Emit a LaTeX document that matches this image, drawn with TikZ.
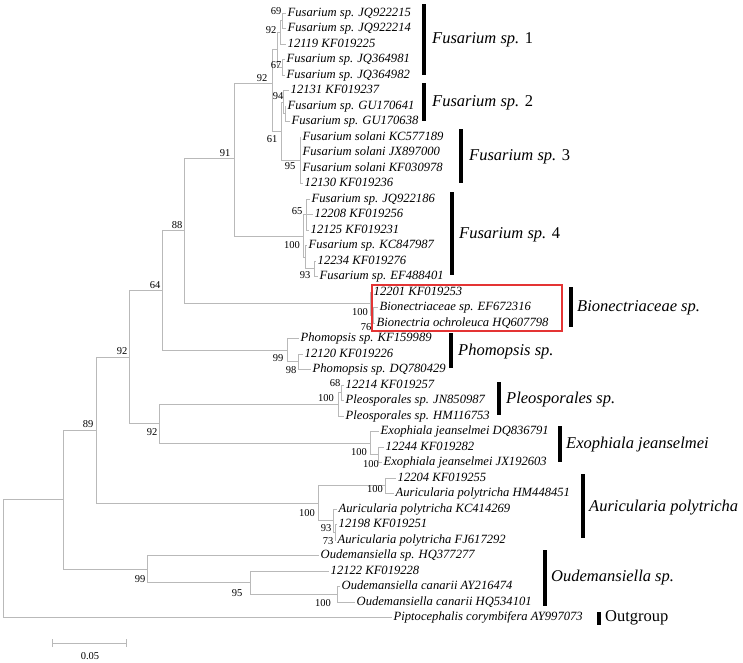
\documentclass[tikz,border=0pt]{standalone}
\usepackage{fontspec}
\setmainfont{Liberation Serif}
\usetikzlibrary{arrows.meta}
\definecolor{treeGray}{RGB}{185,185,185}
\definecolor{boxRed}{RGB}{228,52,52}
\tikzset{
  branch/.style={draw=treeGray, line width=0.9pt},
  leaf/.style={anchor=west, inner sep=1.5pt, text height=8.7pt, text depth=2.6pt,
               font=\fontsize{12.6}{14}\selectfont\itshape},
  boot/.style={inner sep=0pt, font=\fontsize{10.5}{12}\selectfont},
  cladebar/.style={line width=3.2pt},
  clade/.style={anchor=west, inner sep=0pt, font=\fontsize{16.5}{19}\selectfont},
  redframe/.style={draw=boxRed, line width=1.2pt}
}
\begin{document}
\begin{tikzpicture}[x=1pt, y=-1pt]
\useasboundingbox (0,0) rectangle (743,662);

% leaves
\node[leaf] (l1) at (286,13.0) {Fusarium sp. JQ922215};
\node[leaf] (l2) at (286,28.5) {Fusarium sp. JQ922214};
\node[leaf] (l3) at (286,44.0) {12119 KF019225};
\node[leaf] (l4) at (285,59.5) {Fusarium sp. JQ364981};
\node[leaf] (l5) at (285,75.0) {Fusarium sp. JQ364982};
\node[leaf] (l6) at (289,90.6) {12131 KF019237};
\node[leaf] (l7) at (286,106.1) {Fusarium sp. GU170641};
\node[leaf] (l8) at (290,121.6) {Fusarium sp. GU170638};
\node[leaf] (l9) at (301,137.1) {Fusarium solani KC577189};
\node[leaf] (l10) at (301,152.6) {Fusarium solani JX897000};
\node[leaf] (l11) at (301,168.1) {Fusarium solani KF030978};
\node[leaf] (l12) at (303,183.6) {12130 KF019236};
\node[leaf] (l13) at (310,199.1) {Fusarium sp. JQ922186};
\node[leaf] (l14) at (313,214.6) {12208 KF019256};
\node[leaf] (l15) at (309,230.1) {12125 KF019231};
\node[leaf] (l16) at (307,245.7) {Fusarium sp. KC847987};
\node[leaf] (l17) at (316,261.2) {12234 KF019276};
\node[leaf] (l18) at (318,276.7) {Fusarium sp. EF488401};
\node[leaf] (l19) at (372,292.2) {12201 KF019253};
\node[leaf] (l20) at (378,307.7) {Bionectriaceae sp. EF672316};
\node[leaf] (l21) at (375,323.2) {Bionectria ochroleuca HQ607798};
\node[leaf] (l22) at (299,338.7) {Phomopsis sp. KF159989};
\node[leaf] (l23) at (303,354.2) {12120 KF019226};
\node[leaf] (l24) at (311,369.7) {Phomopsis sp. DQ780429};
\node[leaf] (l25) at (344,385.2) {12214 KF019257};
\node[leaf] (l26) at (344,400.7) {Pleosporales sp. JN850987};
\node[leaf] (l27) at (344,416.2) {Pleosporales sp. HM116753};
\node[leaf] (l28) at (379,431.8) {Exophiala jeanselmei DQ836791};
\node[leaf] (l29) at (384,447.3) {12244 KF019282};
\node[leaf] (l30) at (382,462.8) {Exophiala jeanselmei JX192603};
\node[leaf] (l31) at (396,478.3) {12204 KF019255};
\node[leaf] (l32) at (394,493.8) {Auricularia polytricha HM448451};
\node[leaf] (l33) at (337,509.3) {Auricularia polytricha KC414269};
\node[leaf] (l34) at (337,524.8) {12198 KF019251};
\node[leaf] (l35) at (336,540.3) {Auricularia polytricha FJ617292};
\node[leaf] (l36) at (319,555.8) {Oudemansiella sp. HQ377277};
\node[leaf] (l37) at (329,571.3) {12122 KF019228};
\node[leaf] (l38) at (340,586.8) {Oudemansiella canarii AY216474};
\node[leaf] (l39) at (355,602.3) {Oudemansiella canarii HQ534101};
\node[leaf] (l40) at (392,617.9) {Piptocephalis corymbifera AY997073};

% inner nodes
\coordinate (root) at (3,558.9);
\coordinate (A) at (63,499.8);
\coordinate (B) at (96,430.3);
\coordinate (C) at (129,357.2);
\coordinate (D) at (162,290.6);
\coordinate (E) at (184,230.9);
\coordinate (F) at (234,158);
\coordinate (G) at (272,83);
\coordinate (n1) at (277,49.8);
\coordinate (n11) at (280,32.4);
\coordinate (n111) at (282,20.75);
\coordinate (n12) at (282,67.25);
\coordinate (X) at (281,131.3);
\coordinate (n2) at (283,102.2);
\coordinate (n21) at (285,113.8);
\coordinate (n3) at (300,160.3);
\coordinate (n4) at (303,236);
\coordinate (n41) at (306,214.5);
\coordinate (n44) at (305,257.3);
\coordinate (n42) at (314,268.8);
\coordinate (Bio) at (370,303.7);
\coordinate (Bio2) at (373,315.4);
\coordinate (Pho) at (287,350.3);
\coordinate (Pho2) at (298,361.9);
\coordinate (PE) at (159,423.9);
\coordinate (Pleo) at (338,404.4);
\coordinate (Pleo2) at (341,392.9);
\coordinate (Exo) at (370,443.3);
\coordinate (Exo2) at (378,454.9);
\coordinate (Auri) at (318,503.3);
\coordinate (Au1) at (385,485.9);
\coordinate (Au2) at (333,520.7);
\coordinate (Au3) at (335,532.4);
\coordinate (Oud) at (147,569.3);
\coordinate (Oud2) at (250,582.7);
\coordinate (Oud3) at (337,594.5);

% branches
\draw[branch] (root) |- (A) (root) |- (l40.west);
\draw[branch] (A) |- (B) (A) |- (Oud);
\draw[branch] (B) |- (C) (B) |- (Auri);
\draw[branch] (C) |- (D) (C) |- (PE);
\draw[branch] (D) |- (E) (D) |- (Pho);
\draw[branch] (E) |- (F) (E) |- (Bio);
\draw[branch] (F) |- (G) (F) |- (n4);
\draw[branch] (G) |- (n1) (G) |- (X);
\draw[branch] (n1) |- (n11) (n1) |- (n12);
\draw[branch] (n11) |- (n111) (n11) |- (l3.west);
\draw[branch] (n111) |- (l1.west) (n111) |- (l2.west);
\draw[branch] (n12) |- (l4.west) (n12) |- (l5.west);
\draw[branch] (X) |- (n2) (X) |- (n3);
\draw[branch] (n2) |- (l6.west) (n2) |- (n21);
\draw[branch] (n21) |- (l7.west) (n21) |- (l8.west);
\draw[branch] (n3) |- (l9.west) (n3) |- (l10.west) (n3) |- (l11.west) (n3) |- (l12.west);
\draw[branch] (n4) |- (n41) (n4) |- (n44);
\draw[branch] (n41) |- (l13.west) (n41) |- (l14.west) (n41) |- (l15.west);
\draw[branch] (n44) |- (l16.west) (n44) |- (n42);
\draw[branch] (n42) |- (l17.west) (n42) |- (l18.west);
\draw[branch] (Bio) |- (l19.west) (Bio) |- (Bio2);
\draw[branch] (Bio2) |- (l20.west) (Bio2) |- (l21.west);
\draw[branch] (Pho) |- (l22.west) (Pho) |- (Pho2);
\draw[branch] (Pho2) |- (l23.west) (Pho2) |- (l24.west);
\draw[branch] (PE) |- (Pleo) (PE) |- (Exo);
\draw[branch] (Pleo) |- (Pleo2) (Pleo) |- (l27.west);
\draw[branch] (Pleo2) |- (l25.west) (Pleo2) |- (l26.west);
\draw[branch] (Exo) |- (l28.west) (Exo) |- (Exo2);
\draw[branch] (Exo2) |- (l29.west) (Exo2) |- (l30.west);
\draw[branch] (Auri) |- (Au1) (Auri) |- (Au2);
\draw[branch] (Au1) |- (l31.west) (Au1) |- (l32.west);
\draw[branch] (Au2) |- (l33.west) (Au2) |- (Au3);
\draw[branch] (Au3) |- (l34.west) (Au3) |- (l35.west);
\draw[branch] (Oud) |- (l36.west) (Oud) |- (Oud2);
\draw[branch] (Oud2) |- (l37.west) (Oud2) |- (Oud3);
\draw[branch] (Oud3) |- (l38.west) (Oud3) |- (l39.west);

% bootstrap values
\node[boot] (bs-n111) at (276,11) {69};
\node[boot] (bs-n11) at (271,30) {92};
\node[boot] (bs-n12) at (276,65) {67};
\node[boot] (bs-G) at (262,78) {92};
\node[boot] (bs-n2) at (278,96) {94};
\node[boot] (bs-X) at (272,139) {61};
\node[boot] (bs-n3) at (290,166) {95};
\node[boot] (bs-F) at (225,153) {91};
\node[boot] (bs-n41) at (297,211) {65};
\node[boot] (bs-n4) at (292,245) {100};
\node[boot] (bs-n42) at (305,275) {93};
\node[boot] (bs-E) at (177,225) {88};
\node[boot] (bs-D) at (155,285) {64};
\node[boot] (bs-Bio) at (360,312) {100};
\node[boot] (bs-Bio2) at (366,327) {76};
\node[boot] (bs-C) at (122,351) {92};
\node[boot] (bs-Pho) at (278,358) {99};
\node[boot] (bs-Pho2) at (291,370) {98};
\node[boot] (bs-Pleo2) at (335,383) {68};
\node[boot] (bs-Pleo) at (326,398) {100};
\node[boot] (bs-B) at (88,424) {89};
\node[boot] (bs-PE) at (152,432) {92};
\node[boot] (bs-Exo) at (359,452) {100};
\node[boot] (bs-Exo2) at (371,464) {100};
\node[boot] (bs-Au1) at (375,489) {100};
\node[boot] (bs-Auri) at (307,513) {100};
\node[boot] (bs-Au2) at (326,528) {93};
\node[boot] (bs-Au3) at (328,541) {73};
\node[boot] (bs-Oud) at (140,579) {99};
\node[boot] (bs-Oud2) at (237,593) {95};
\node[boot] (bs-Oud3) at (323,603) {100};

% highlighted group
\draw[redframe] (372,285) rectangle (562,331);

% clade bars and names
\draw[cladebar] (424,4) -- (424,75);
\node[clade] (fus1) at (432,40) {\textit{Fusarium sp.} 1};
\draw[cladebar] (424,83) -- (424,121);
\node[clade] (fus2) at (432,103) {\textit{Fusarium sp.} 2};
\draw[cladebar] (461,129) -- (461,183);
\node[clade] (fus3) at (469,157) {\textit{Fusarium sp.} 3};
\draw[cladebar] (452,192) -- (452,275);
\node[clade] (fus4) at (459,235) {\textit{Fusarium sp.} 4};
\draw[cladebar] (571,287) -- (571,327);
\node[clade] (bion) at (577,308) {\textit{Bionectriaceae sp.}};
\draw[cladebar] (451,333) -- (451,368);
\node[clade] (phom) at (458,352) {\textit{Phomopsis sp.}};
\draw[cladebar] (499,382) -- (499,415);
\node[clade] (pleo) at (506,400) {\textit{Pleosporales sp.}};
\draw[cladebar] (560,426) -- (560,462);
\node[clade] (exo) at (566,445) {\textit{Exophiala jeanselmei}};
\draw[cladebar] (583,474) -- (583,538);
\node[clade] (auri) at (589,508) {\textit{Auricularia polytricha}};
\draw[cladebar] (545,550) -- (545,606);
\node[clade] (oude) at (551,578) {\textit{Oudemansiella sp.}};
\draw[cladebar] (599,612) -- (599,625);
\node[clade] (outg) at (605,618) {Outgroup};

% scale bar
\coordinate (sb1) at (52,643);
\coordinate (sb2) at (127,643);
\draw[branch, {Bar[width=8pt]}-{Bar[width=8pt]}] (sb1) -- (sb2);
\node[boot] (sblabel) at (90,656) {0.05};
\end{tikzpicture}
\end{document}
